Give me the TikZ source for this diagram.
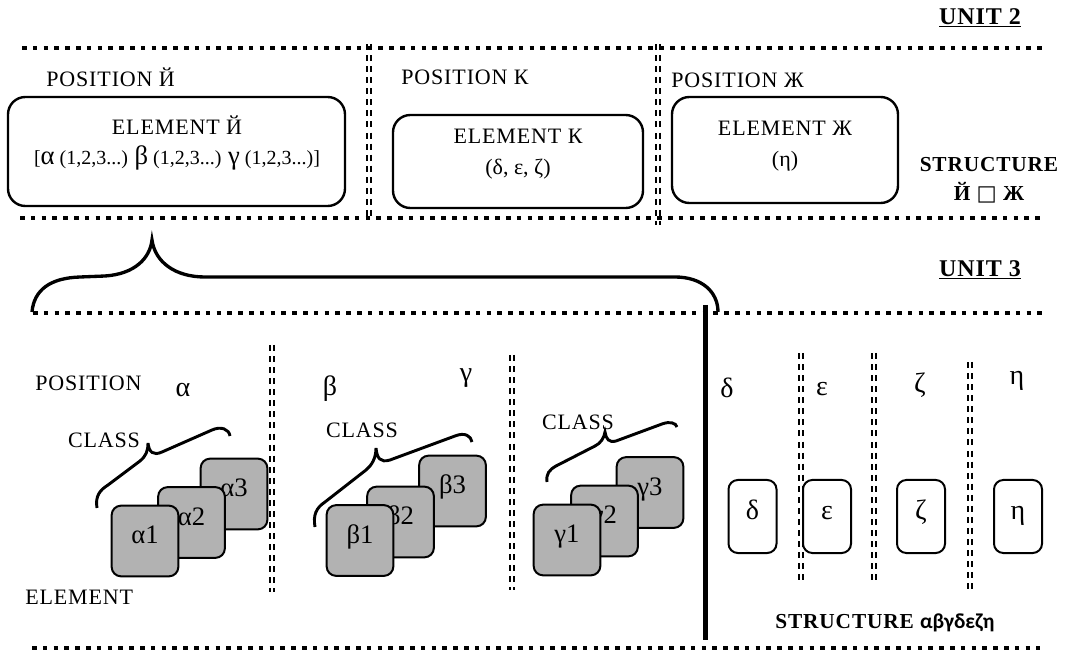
\documentclass[tikz,border=0pt]{standalone}
\usepackage{fontspec}
\setmainfont{Liberation Serif}[LetterSpace=4]
\newfontfamily\plainserif{Liberation Serif}
\newfontfamily\greekbold{Carlito}
\newfontfamily\symbfont{DejaVu Sans}
\begin{document}
\begin{tikzpicture}[x=0.75pt,y=-0.75pt,
	dotline/.style={line width=3pt, dash pattern=on 3.5pt off 4.6pt},
	divider/.style={double, line width=1.6pt, double distance=2pt, dash pattern=on 4.5pt off 3.8pt},
	unitlabel/.style={font=\fontsize{18}{18}\selectfont\bfseries, inner sep=0pt},
	txt/.style={font=\fontsize{16.5}{18}\selectfont, inner sep=0pt},
	boxtxt/.style={font=\fontsize{16.5}{23}\selectfont, align=center, inner sep=0pt},
	greek/.style={font=\fontsize{21}{22}\selectfont\plainserif, inner sep=0pt},
	bigbox/.style={draw, line width=1.8pt, rounded corners=13pt},
	card/.style={draw, line width=1.5pt, fill=gray!60, rounded corners=7pt, minimum width=50pt, minimum height=53pt, font=\fontsize{20}{22}\selectfont\plainserif, text height=13pt, text depth=9pt},
	slot/.style={draw, line width=1.5pt, rounded corners=7pt, minimum width=36pt, minimum height=54.75pt, font=\fontsize{21}{22}\selectfont\plainserif, text height=13pt, text depth=9pt},
	classbrace/.style={line width=2.2pt}]
	\useasboundingbox (0,0) rectangle (1065,652);
	\draw[divider] (369,44) -- (369,218);
	\draw[divider] (658,44) -- (658,225);
	\draw[divider] (272,345) -- (272,592);
	\draw[divider] (512,355) -- (512,590);
	\draw[divider] (801,353) -- (801,583);
	\draw[divider] (874,353) -- (874,583);
	\draw[divider] (970,362) -- (970,592);
	\draw[dotline] (22,48) -- (1043,48);
	\draw[dotline] (20,218) -- (1043,218);
	\draw[dotline] (33,313) -- (1043,313);
	\draw[dotline] (32,648) -- (1040,648);
	\draw[line width=3.75pt] (705,305) -- (705,640);
	\node[unitlabel] (unit2) at (980,18) {\underline{UNIT 2}};
	\node[unitlabel] (unit3) at (980,270) {\underline{UNIT 3}};
	\node[txt, anchor=west] (posY) at (46,77) {POSITION Й};
	\node[txt, anchor=west] (posK) at (401,77) {POSITION К};
	\node[txt, anchor=west] (posZh) at (671,80) {POSITION Ж};
	\node[bigbox, minimum width=252.75pt, minimum height=81.75pt] (boxY) at (176.5,151.5) {};
	\node[bigbox, minimum width=187.5pt, minimum height=69.75pt] (boxK) at (518,161.5) {};
	\node[bigbox, minimum width=169.5pt, minimum height=79.5pt] (boxZh) at (785,150) {};
	\node[boxtxt] (elY) at (177,143) {ELEMENT Й\\{\plainserif\fontsize{15}{18}\selectfont[{\fontsize{20}{22}\selectfont α} (1,2,3...) {\fontsize{20}{22}\selectfont β} (1,2,3...) {\fontsize{20}{22}\selectfont γ} (1,2,3...)]}};
	\node[boxtxt] (elK) at (518,154) {ELEMENT К\\{\plainserif (δ, ε, ζ)}};
	\node[boxtxt] (elZh) at (785,146) {ELEMENT Ж\\{\plainserif (η)}};
	\node[boxtxt, font=\fontsize{16}{22}\selectfont\bfseries] (strA) at (989,180) {STRUCTURE\\Й {\symbfont □} Ж};
	\draw[line width=2.5pt] (32,312) .. controls (34,290) and (50,278) .. (80,277) -- (105,276) .. controls (135,274) and (150,258) .. (152,240) .. controls (155,262) and (175,277) .. (205,277) -- (675,277) .. controls (702,277) and (718,292) .. (718,312);
	\node[txt, anchor=west] (posrow) at (35,383) {POSITION};
	\node[txt, anchor=west] (elrow) at (25,597) {ELEMENT};
	\node[greek] (ga) at (183,390) {α};
	\node[greek] (gb) at (330,389) {β};
	\node[greek] (gg) at (466,378) {γ};
	\node[greek] (gd) at (727,388) {δ};
	\node[greek] (ge) at (822,389) {ε};
	\node[greek] (gz) at (920,385) {ζ};
	\node[greek] (gh) at (1017,381) {η};
	\node[txt] (classA) at (104,440) {CLASS};
	\node[txt] (classB) at (362,430) {CLASS};
	\node[txt] (classG) at (578,422) {CLASS};
	\draw[classbrace] (97,508) .. controls (95,496) and (100,490) .. (108,485) -- (140,461) .. controls (146,456) and (148,451) .. (148,443) .. controls (149,452) and (153,456) .. (162,452) -- (212,430) .. controls (221,426) and (229,429) .. (230,436);
	\draw[classbrace] (315,527) .. controls (313,515) and (316,508) .. (325,502) -- (366,470) .. controls (372,465) and (376,458) .. (376,448) .. controls (377,458) and (380,463) .. (390,460) -- (455,436) .. controls (465,432) and (471,436) .. (472,442);
	\draw[classbrace] (547,482) .. controls (546,474) and (549,470) .. (556,466) -- (595,446) .. controls (601,443) and (604,438) .. (605,432) .. controls (606,439) and (609,443) .. (616,441) -- (662,424) .. controls (670,421) and (676,423) .. (677,427);
	\node[card] (a3) at (234,494) {α3};
	\node[card] (a2) at (191.5,522.5) {α2};
	\node[card] (a1) at (145,541) {α1};
	\node[card] (b3) at (452.5,491) {β3};
	\node[card] (b2) at (400.5,522) {β2};
	\node[card] (b1) at (360,540.5) {β1};
	\node[card] (g3) at (650,492.5) {γ3};
	\node[card] (g2) at (604.5,521) {γ2};
	\node[card] (g1) at (567,540) {γ1};
	\node[slot] (sd) at (752.5,516.5) {δ};
	\node[slot] (se) at (827,516.5) {ε};
	\node[slot] (sz) at (921,516.5) {ζ};
	\node[slot] (sh) at (1018,516.5) {η};
	\node[unitlabel, font=\fontsize{16}{18}\selectfont\bfseries] (strB) at (885,623) {STRUCTURE {\greekbold\bfseries αβγδεζη}};
\end{tikzpicture}
\end{document}
